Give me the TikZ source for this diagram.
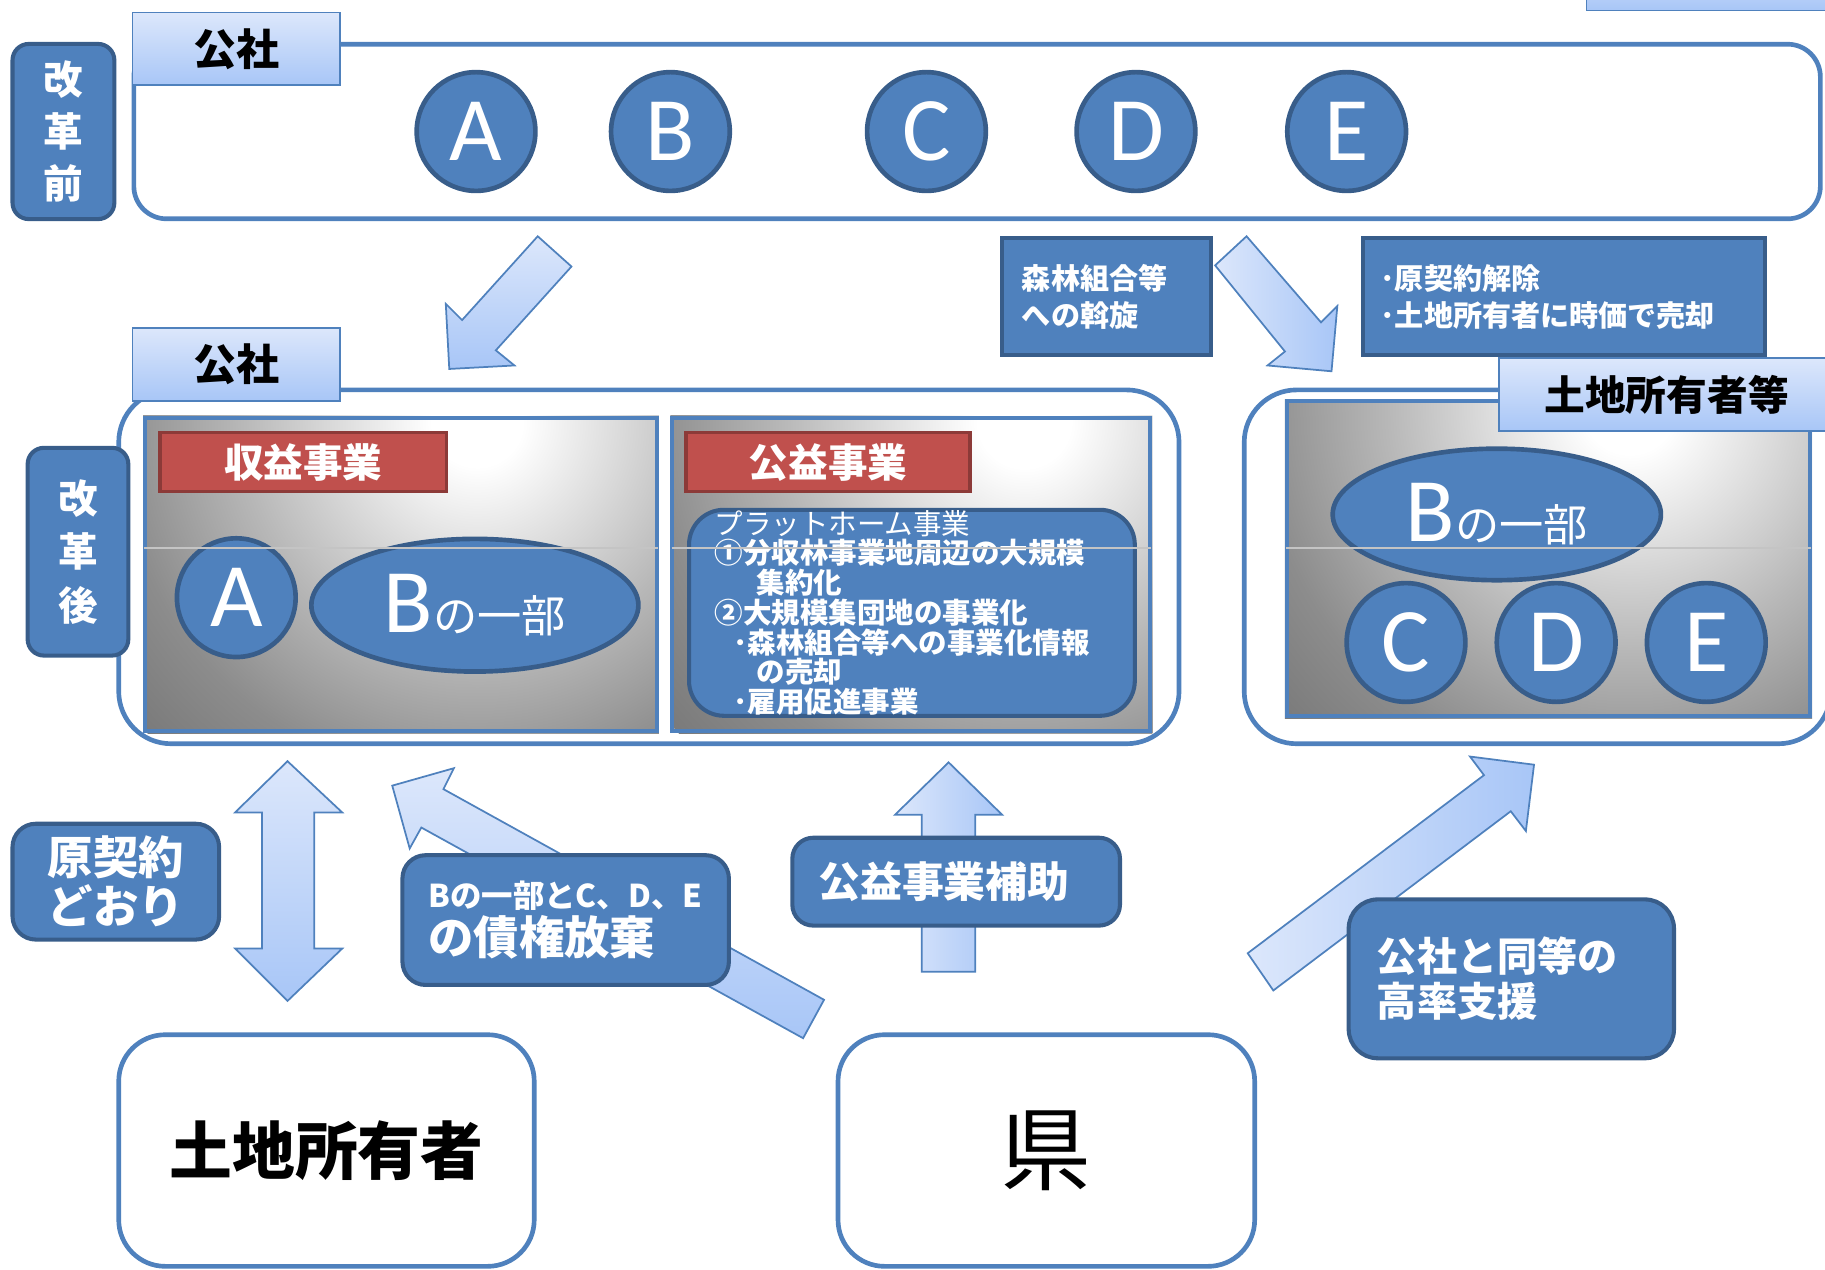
\documentclass[tikz,border=0pt]{standalone}
\usepackage{fontspec}
\setmainfont{Noto Sans CJK JP}
\newfontfamily\lat{Carlito}
\usetikzlibrary{shapes.geometric}
\definecolor{bfill}{HTML}{4F81BD}
\definecolor{bdark}{HTML}{385D8A}
\definecolor{lt}{HTML}{DCE7FB}
\definecolor{lb}{HTML}{A8C6F7}
\definecolor{rfill}{HTML}{C0504D}
\definecolor{rdark}{HTML}{8C3A38}
\definecolor{seam}{HTML}{C4C4C4}
\pgfdeclareradialshading{grayrad}{\pgfpoint{0bp}{0bp}}{color(0bp)=(white); color(2.5bp)=(white); color(13bp)=(black!28); color(20bp)=(black!45); color(25bp)=(black!52); color(50bp)=(black!52)}
\begin{document}
\begin{tikzpicture}[x=1pt,y=-1pt,
  bluebox/.style={draw=bdark, fill=bfill, line width=3.5pt, text=white, font=\bfseries, inner sep=0pt},
  lightbox/.style={draw=bfill, top color=lt, bottom color=lb, line width=1.5pt, inner sep=0pt, font=\bfseries\fontsize{37}{39}\selectfont},
  whitebox/.style={draw=bfill, fill=white, line width=4pt, inner sep=0pt},
  redbox/.style={draw=rdark, fill=rfill, line width=3pt, text=white, inner sep=0pt, font=\bfseries\fontsize{34}{36}\selectfont},
  letter/.style={circle, draw=bdark, fill=bfill, line width=4pt, minimum size=102pt, inner sep=0pt, text=white, font=\lat\fontsize{78}{80}\selectfont},
  oval/.style={ellipse, draw=bdark, fill=bfill, line width=4pt, inner sep=0pt, text=white},
  barrow/.style={draw=bfill, line width=1.5pt, line join=miter},
  panel/.style={draw=bfill, line width=3.5pt, inner sep=0pt},
  seamline/.style={draw=seam, line width=1.5pt}
]
\useasboundingbox (0,0) rectangle (1568,1091);

% ---------- top section ----------
\node[lightbox, minimum width=211pt, minimum height=48pt] (topright) at (1468.5,-15) {};
\node[whitebox, rounded corners=28pt, minimum width=1449pt, minimum height=150pt] (zenbox) at (839.5,113) {};
\node[bluebox, rounded corners=14pt, minimum width=87.5pt, minimum height=150.5pt, align=center, font=\bfseries\fontsize{34}{45}\selectfont] (kakuzen) at (54.5,113) {改\\革\\前};
\node[lightbox, minimum width=178.5pt, minimum height=62.5pt] (kosha1) at (203,42) {公社};
\node[letter] (A1) at (409,113) {A};
\node[letter] (B1) at (576,113) {B};
\node[letter] (C1) at (796,113) {C};
\node[letter] (D1) at (976,113) {D};
\node[letter] (E1) at (1157,113) {E};

% arrows from top
\shadedraw[barrow, top color=lt, bottom color=lb] (462,203) -- (491,229) -- (426,301) -- (442,314) -- (386,317) -- (383,261) -- (397,275) -- cycle;
\shadedraw[barrow, left color=lt, right color=lb] (1071,203) -- (1135,277) -- (1149,263) -- (1144,319) -- (1089,314) -- (1104,302) -- (1044,228) -- cycle;

\node[bluebox, minimum width=179.5pt, minimum height=100.5pt, text width=145pt, align=left, font=\bfseries\fontsize{25}{32}\selectfont] (assen) at (950.5,255) {森林組合等\\への斡旋};
\node[bluebox, minimum width=345.5pt, minimum height=100.5pt, text width=315pt, align=left, font=\bfseries\fontsize{25}{32}\selectfont] (kaijo) at (1343.5,255) {･原契約解除\\･土地所有者に時価で売却};

% ---------- middle left ----------
\node[whitebox, rounded corners=45pt, minimum width=911pt, minimum height=304pt] (gobox) at (557.5,487) {};
\node[lightbox, minimum width=178.5pt, minimum height=62.5pt] (kosha2) at (203,313) {公社};
\node[bluebox, rounded corners=14pt, minimum width=86.5pt, minimum height=178.5pt, align=center, font=\bfseries\fontsize{34}{46}\selectfont] (kakugo) at (67,474) {改\\革\\後};

\begin{scope}
  \clip (123,357) rectangle (566,630);
  \shade[shading=grayrad] (410,362) circle (390);
\end{scope}
\node[panel, minimum width=439.5pt, minimum height=269.5pt] (panel1) at (344.5,493.5) {};

\begin{scope}
  \clip (576,357) rectangle (990,630);
  \shade[shading=grayrad] (880,362) circle (400);
\end{scope}
\node[panel, minimum width=410.5pt, minimum height=269.5pt] (panel2) at (783,493.5) {};

\node[redbox, minimum width=246pt, minimum height=51pt] (shueki) at (260.5,397) {収益事業};
\node[letter] (A2) at (203,513.5) {A};
\node[oval, minimum width=281pt, minimum height=114pt] (B2) at (408,520) {{\lat\fontsize{78}{80}\selectfont B}{\fontsize{38}{40}\selectfont の一部}};

\node[redbox, minimum width=244pt, minimum height=51pt] (koeki) at (711.5,397) {公益事業};
\node[bluebox, rounded corners=30pt, minimum width=383pt, minimum height=177pt, text width=339pt, align=left, font=\bfseries\fontsize{24.5}{25.5}\selectfont] (platform) at (783.5,526.5) {{\mdseries プラットホーム事業}\\①分収林事業地周辺の大規模\\\hspace*{36pt}集約化\\②大規模集団地の事業化\\\hspace*{16pt}･森林組合等への事業化情報\\\hspace*{36pt}の売却\\\hspace*{16pt}･雇用促進事業};

% ---------- middle right ----------
\node[whitebox, rounded corners=45pt, minimum width=504pt, minimum height=304pt] (gorbox) at (1321,487) {};
\begin{scope}
  \clip (1104,343) rectangle (1557,617);
  \shade[shading=grayrad] (1400,350) circle (400);
\end{scope}
\node[panel, minimum width=449.5pt, minimum height=270.5pt] (panel3) at (1330.5,480) {};
\node[lightbox, minimum width=288.5pt, minimum height=62.5pt, font=\bfseries\fontsize{35}{37}\selectfont] (tochi2) at (1432,339) {土地所有者等};
\node[oval, minimum width=282pt, minimum height=113pt] (B3) at (1286,442) {{\lat\fontsize{78}{80}\selectfont B}{\fontsize{38}{40}\selectfont の一部}};
\node[letter] (C2) at (1208,552) {C};
\node[letter] (D2) at (1337,552) {D};
\node[letter] (E2) at (1466,552) {E};

% seams across the panels
\draw[seamline] (124,471) -- (565,471);
\draw[seamline] (577,471) -- (989,471);
\draw[seamline] (1105,471) -- (1556,471);

% ---------- bottom ----------
\shadedraw[barrow, top color=lt, bottom color=lb] (247,654) -- (294,698) -- (270,698) -- (270,815) -- (294,815) -- (247,860) -- (202,815) -- (225,815) -- (225,698) -- (202,698) -- cycle;
\node[bluebox, rounded corners=20pt, minimum width=177.5pt, minimum height=99.5pt, align=center, font=\bfseries\fontsize{39}{42}\selectfont] (genkei) at (99.5,757.5) {原契約\\どおり};

\shadedraw[barrow, top color=lt, bottom color=lb] (337,675) -- (390,660) -- (381,678) -- (708,859) -- (690,892) -- (362,711) -- (352,729) -- cycle;
\node[bluebox, rounded corners=20pt, minimum width=280.5pt, minimum height=111.5pt, text width=236pt, align=left] (saiken) at (486,790.5) {\fontsize{27}{30}\selectfont Bの一部とC、D、E\\[3pt]\fontsize{39}{41}\selectfont の債権放棄};

\shadedraw[barrow, left color=lt, right color=lb] (815,655) -- (861,700) -- (838,700) -- (838,835) -- (792,835) -- (792,700) -- (769,700) -- cycle;
\node[bluebox, rounded corners=18pt, minimum width=281.5pt, minimum height=75.5pt, text width=237pt, align=left, font=\bfseries\fontsize{36}{38}\selectfont] (hojo) at (821.5,757.5) {公益事業補助};

\shadedraw[barrow, left color=lt, right color=lb] (1318,657) -- (1311,714) -- (1298,697) -- (1094,851) -- (1072,819) -- (1275,666) -- (1263,650) -- cycle;
\node[bluebox, rounded corners=25pt, minimum width=279.5pt, minimum height=136.5pt, text width=231pt, align=left, font=\bfseries\fontsize{34.5}{39}\selectfont] (doto) at (1298.5,841) {公社と同等の\\高率支援};

\node[whitebox, rounded corners=40pt, minimum width=357pt, minimum height=199pt, font=\bfseries\fontsize{54}{56}\selectfont] (owner) at (280.5,988.5) {土地所有者};
\node[whitebox, rounded corners=40pt, minimum width=358pt, minimum height=199pt, font=\fontsize{78}{80}\selectfont] (ken) at (899,988.5) {県};
\end{tikzpicture}
\end{document}
